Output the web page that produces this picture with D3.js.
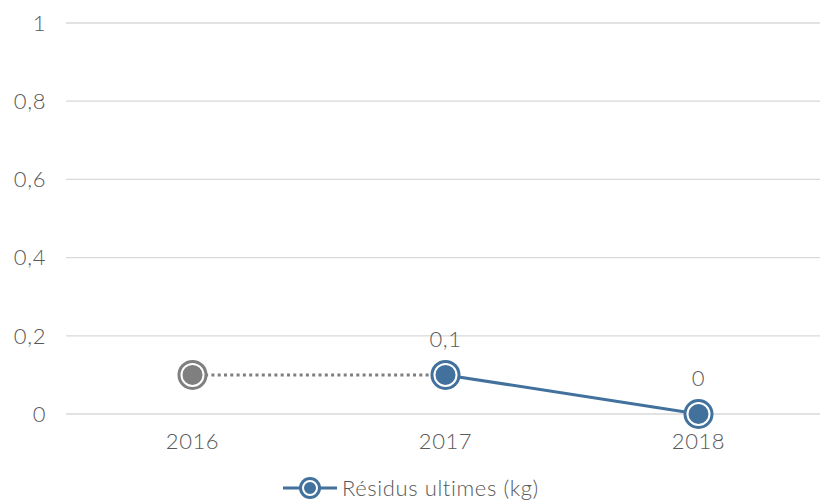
<!DOCTYPE html>
<html>
<head>
<meta charset="utf-8">
<script src="https://d3js.org/d3.v7.min.js"></script>
<style>
  body { margin: 0; background: #fff; }
  svg { display: block; }
  text { font-family: Lato, 'DejaVu Sans', sans-serif; font-weight: 300; fill: #595959; letter-spacing: 0.6px; }
</style>
</head>
<body>
<svg id="chart"></svg>
<script>
const years = ["2016", "2017", "2018"];
const values = [0.1, 0.1, 0];
const valueLabels = [null, "0,1", "0"];
const yTicks = [0, 0.2, 0.4, 0.6, 0.8, 1];
const yTickLabels = ["0", "0,2", "0,4", "0,6", "0,8", "1"];
const seriesName = "Résidus ultimes (kg)";

const width = 820, height = 501;
const blue = "#41719c", grey = "#7f7f7f";
const fs = 22;

const svg = d3.select("#chart").attr("width", width).attr("height", height);

const x = d3.scaleBand().domain(years).range([66, 825]);
const y = d3.scaleLinear().domain([0, 1]).range([414, 23]);
const cx = d => x(d) + x.bandwidth() / 2;

// grid
svg.append("g").selectAll("line")
  .data(yTicks)
  .enter().append("line")
  .attr("x1", 66).attr("x2", 825)
  .attr("y1", d => y(d)).attr("y2", d => y(d))
  .attr("stroke", "#d9d9d9").attr("stroke-width", 1.3);

// y labels
svg.append("g").selectAll("text")
  .data(yTicks)
  .enter().append("text")
  .attr("x", 46).attr("y", d => y(d))
  .attr("dy", "0.35em")
  .attr("text-anchor", "end")
  .attr("font-size", fs)
  .text((d, i) => yTickLabels[i]);

// x labels
svg.append("g").selectAll("text")
  .data(years)
  .enter().append("text")
  .attr("x", cx).attr("y", 449)
  .attr("text-anchor", "middle")
  .attr("font-size", fs)
  .text(d => d);

// lines
const pts = years.map((d, i) => [cx(d), y(values[i])]);
svg.append("line")
  .attr("x1", pts[0][0]).attr("y1", pts[0][1])
  .attr("x2", pts[1][0]).attr("y2", pts[1][1])
  .attr("stroke", grey).attr("stroke-width", 3)
  .attr("stroke-dasharray", "3,3.3");
svg.append("line")
  .attr("x1", pts[1][0]).attr("y1", pts[1][1])
  .attr("x2", pts[2][0]).attr("y2", pts[2][1])
  .attr("stroke", blue).attr("stroke-width", 3);

function marker(g, px, py, col, r) {
  g.append("circle").attr("cx", px).attr("cy", py).attr("r", r).attr("fill", col);
  g.append("circle").attr("cx", px).attr("cy", py).attr("r", r - 4)
    .attr("fill", "none").attr("stroke", "#fff").attr("stroke-width", 2);
}

const mk = svg.append("g");
pts.forEach((p, i) => marker(mk, p[0], p[1], i === 0 ? grey : blue, 15));

// data labels
svg.append("g").selectAll("text")
  .data(years.filter((d, i) => valueLabels[i] !== null))
  .enter().append("text")
  .attr("x", cx)
  .attr("y", d => y(values[years.indexOf(d)]) - 28)
  .attr("text-anchor", "middle")
  .attr("font-size", fs)
  .text(d => valueLabels[years.indexOf(d)]);

// legend
const lg = svg.append("g");
lg.append("line").attr("x1", 283).attr("x2", 337).attr("y1", 488).attr("y2", 488)
  .attr("stroke", blue).attr("stroke-width", 3);
marker(lg, 310, 488, blue, 11);
lg.append("text").attr("x", 342).attr("y", 488).attr("dy", "0.35em")
  .attr("font-size", fs).text(seriesName);
</script>
</body>
</html>
